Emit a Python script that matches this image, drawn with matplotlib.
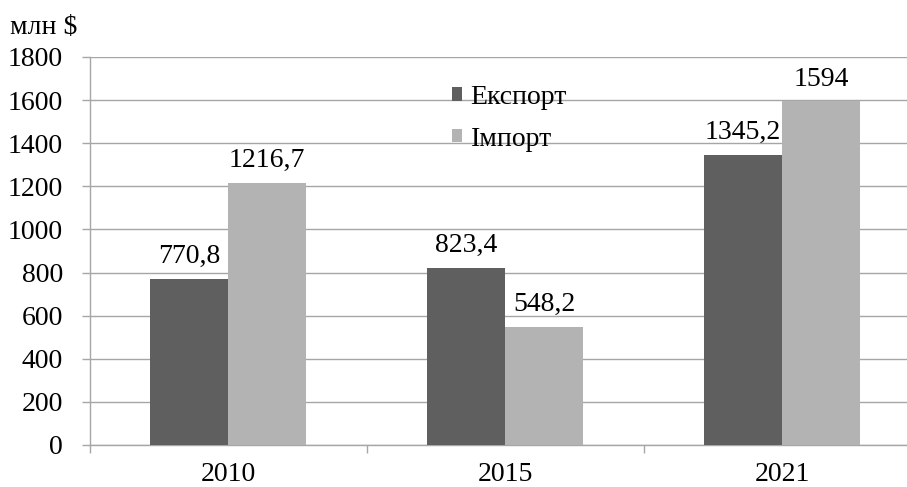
import matplotlib.pyplot as plt
import numpy as np

years = ["2010", "2015", "2021"]
export_vals = [770.8, 823.4, 1345.2]
import_vals = [1216.7, 548.2, 1594]
series_names = ["Експорт", "Імпорт"]
y_ticks = list(range(0, 1801, 200))

plt.rcParams['font.family'] = ['Liberation Serif', 'DejaVu Serif']
FS = 20

fig = plt.figure(figsize=(9.07, 4.87), dpi=100)
# axes span: left edge at separator, right edge cut off by the image border
ax = fig.add_axes([89.5 / 907, 42 / 487, (907 - 89.5) / 907, 388 / 487])

x = np.arange(len(years))
w = 78 / 277
grid_c = '#a6a6a6'

b1 = ax.bar(x - w / 2, export_vals, w, color='#5f5f5f', label=series_names[0], zorder=3)
b2 = ax.bar(x + w / 2, import_vals, w, color='#b3b3b3', label=series_names[1], zorder=3)


def fmt(v):
    return f"{v:g}".replace('.', ',')


ax.bar_label(b1, labels=[fmt(v) for v in export_vals], padding=7, fontsize=FS)
ax.bar_label(b2, labels=[fmt(v) for v in import_vals], padding=7, fontsize=FS)

ax.set_yticks(y_ticks)
ax.set_xticks(x)
ax.set_xticklabels(years)
ax.set_xticks([-0.5, 0.5, 1.5, 2.5], minor=True)
# limits after ticks, otherwise set_xticks widens the view
ax.set_ylim(0, 1800)
ax.set_xlim(-0.5, -0.5 + (907 - 89.5) / 277)

ax.grid(axis='y', color=grid_c, linewidth=1.0, zorder=0)
for s in ['top', 'right']:
    ax.spines[s].set_visible(False)
for s in ['left', 'bottom']:
    ax.spines[s].set_color(grid_c)
    ax.spines[s].set_linewidth(1.0)

ax.tick_params(axis='y', length=5.5, width=1.0, color=grid_c, pad=13.5, labelsize=FS)
ax.tick_params(axis='x', which='major', length=0, pad=12, labelsize=FS)
ax.tick_params(axis='x', which='minor', length=5.5, width=1.0, color=grid_c)

fig.text(10 / 907, 1 - 34 / 487, "млн $", fontsize=FS, va='baseline', ha='left')

ax.legend(loc='upper left', bbox_to_anchor=(452 / 907, 1 - 85 / 487),
          bbox_transform=fig.transFigure, frameon=False, fontsize=FS,
          handlelength=0.37, handleheight=0.37, handletextpad=0.3,
          labelspacing=0.6, borderaxespad=0, borderpad=0)

fig.savefig('out.png', dpi=100)
